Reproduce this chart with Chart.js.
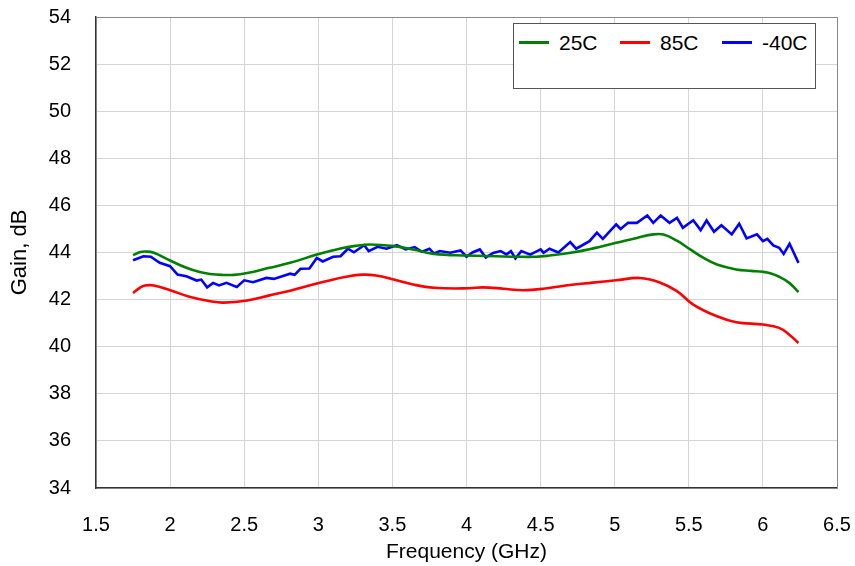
<!DOCTYPE html>
<html>
<head>
<meta charset="utf-8">
<script src="https://cdn.jsdelivr.net/npm/chart.js@4/dist/chart.umd.min.js"></script>
<style>
html,body{margin:0;padding:0;background:#fff;}
#wrap{position:relative;width:855px;height:566px;}
#legend{position:absolute;left:513px;top:23px;width:303px;height:66px;border:1.5px solid #555;background:#fff;box-sizing:border-box;font-family:"Liberation Sans",Arial,sans-serif;font-size:21px;color:#000;}
.item{position:absolute;top:7px;height:24px;line-height:24px;}
.sw{display:inline-block;width:30px;height:0;border-top:3px solid;vertical-align:middle;margin-right:10px;position:relative;top:-2px;}
</style>
</head>
<body>
<div id="wrap">
<canvas id="c" width="855" height="566"></canvas>
<div id="legend"></div>
</div>
<script>
// ---- data ----
const seriesNames = ["25C", "85C", "-40C"];
const seriesColors = ["#008000", "#ff0000", "#0000ff"];

const freq25 = [1.75,1.80,1.83,1.89,2.00,2.11,2.20,2.27,2.35,2.43,2.52,2.67,2.81,2.99,3.15,3.25,3.35,3.51,3.64,3.78,4.00,4.20,4.34,4.47,4.56,4.67,4.80,5.01,5.15,5.26,5.33,5.42,5.51,5.60,5.69,5.82,5.92,6.00,6.05,6.11,6.18,6.24];
const gain25 = [43.89,44.02,44.04,43.99,43.66,43.35,43.17,43.09,43.05,43.05,43.13,43.35,43.56,43.91,44.17,44.28,44.34,44.27,44.13,43.94,43.87,43.84,43.82,43.82,43.87,43.96,44.10,44.41,44.62,44.77,44.76,44.50,44.13,43.77,43.49,43.28,43.22,43.18,43.12,42.97,42.70,42.32];

const freq85 = [1.75,1.80,1.83,1.89,2.00,2.13,2.27,2.36,2.52,2.67,2.81,2.99,3.17,3.30,3.39,3.51,3.64,3.78,4.02,4.11,4.25,4.38,4.52,4.67,4.85,5.01,5.17,5.30,5.42,5.53,5.69,5.82,6.00,6.11,6.18,6.24];
const gain85 = [42.28,42.52,42.60,42.60,42.40,42.12,41.93,41.87,41.96,42.18,42.38,42.68,42.95,43.06,43.02,42.85,42.64,42.50,42.48,42.52,42.46,42.40,42.46,42.60,42.72,42.82,42.92,42.74,42.36,41.79,41.29,41.04,40.94,40.80,40.50,40.16];

const freqM40 = [1.75,1.82,1.87,1.93,2.00,2.05,2.11,2.18,2.21,2.25,2.29,2.33,2.38,2.45,2.50,2.56,2.65,2.70,2.81,2.84,2.88,2.94,2.99,3.03,3.10,3.15,3.20,3.24,3.31,3.34,3.40,3.46,3.53,3.59,3.65,3.70,3.75,3.78,3.82,3.89,3.96,4.00,4.04,4.09,4.13,4.18,4.23,4.27,4.30,4.33,4.37,4.43,4.50,4.52,4.56,4.62,4.70,4.74,4.83,4.88,4.92,5.01,5.04,5.09,5.15,5.22,5.26,5.31,5.37,5.42,5.46,5.53,5.58,5.62,5.67,5.72,5.79,5.84,5.89,5.96,6.00,6.03,6.07,6.11,6.14,6.18,6.24];
const gainM40 = [43.67,43.84,43.82,43.56,43.42,43.06,42.99,42.81,42.85,42.52,42.71,42.60,42.71,42.54,42.82,42.74,42.92,42.88,43.10,43.05,43.31,43.32,43.77,43.62,43.82,43.84,44.16,44.01,44.31,44.06,44.24,44.16,44.31,44.13,44.23,44.03,44.16,43.96,44.06,43.99,44.09,43.82,44.00,44.13,43.79,43.98,44.06,43.92,44.06,43.75,44.06,43.91,44.13,43.99,44.16,44.00,44.44,44.16,44.48,44.84,44.58,45.19,45.00,45.26,45.26,45.57,45.26,45.57,45.26,45.47,45.05,45.37,44.95,45.36,44.88,45.16,44.77,45.22,44.60,44.77,44.48,44.58,44.30,44.20,43.94,44.37,43.56];

const xMin = 1.5, xMax = 6.5, xStep = 0.5;
const yMin = 34, yMax = 54, yStep = 2;
const xTitle = "Frequency (GHz)";
const yTitle = "Gain, dB";

// ---- build ----
const pts = (xs, ys) => xs.map((x, i) => ({x: x, y: ys[i]}));
const allX = [freq25, freq85, freqM40];
const allY = [gain25, gain85, gainM40];
const tensions = [0.4, 0.4, 0];

const datasets = seriesNames.map((n, i) => ({
  label: n,
  data: pts(allX[i], allY[i]),
  borderColor: seriesColors[i],
  backgroundColor: seriesColors[i],
  borderWidth: 2.6,
  pointRadius: 0,
  tension: tensions[i],
  fill: false
}));

const fam = '"Liberation Sans", Arial, sans-serif';
const tickFont = {family: fam, size: 20};
const titleFont = {family: fam, size: 21};

new Chart(document.getElementById('c'), {
  type: 'line',
  data: {datasets: datasets},
  options: {
    responsive: false,
    devicePixelRatio: 1,
    animation: false,
    layout: {padding: {top: 17, right: 18, left: 0, bottom: 0}},
    plugins: {legend: {display: false}, tooltip: {enabled: false}},
    scales: {
      x: {
        type: 'linear',
        min: xMin, max: xMax,
        ticks: {stepSize: xStep, font: tickFont, color: '#000', padding: 25, maxRotation: 0,
                callback: v => String(Number(v.toFixed(2)))},
        grid: {color: '#d4d4d4', lineWidth: 1, drawTicks: false},
        border: {color: '#333', width: 1.5},
        title: {display: true, text: xTitle, font: titleFont, color: '#000', padding: {top: 0, bottom: 1}},
        afterFit: s => { s.height = 78; s.paddingLeft = 0; s.paddingRight = 0; }
      },
      y: {
        min: yMin, max: yMax,
        ticks: {stepSize: yStep, font: tickFont, color: '#000', padding: 25},
        grid: {color: '#d4d4d4', lineWidth: 1, drawTicks: false},
        border: {color: '#333', width: 1.5},
        title: {display: true, text: yTitle, font: {family: fam, size: 22}, color: '#000', padding: {top: 7, bottom: 0}},
        afterFit: s => { s.width = 96; s.paddingTop = 0; s.paddingBottom = 0; }
      }
    }
  },
  plugins: [{
    id: 'frame',
    afterDatasetsDraw(chart) {
      const a = chart.chartArea, ctx = chart.ctx;
      ctx.save();
      ctx.strokeStyle = '#888';
      ctx.lineWidth = 1;
      ctx.beginPath();
      ctx.moveTo(a.left, a.top + 0.5); ctx.lineTo(a.right + 0.5, a.top + 0.5); ctx.lineTo(a.right + 0.5, a.bottom);
      ctx.stroke();
      ctx.restore();
    }
  }]
});

// HTML legend
const lg = document.getElementById('legend');
const lefts = [5, 106, 208];
seriesNames.forEach((n, i) => {
  const d = document.createElement('div');
  d.className = 'item';
  d.style.left = lefts[i] + 'px';
  const sw = document.createElement('span');
  sw.className = 'sw';
  sw.style.borderTopColor = seriesColors[i];
  d.appendChild(sw);
  d.appendChild(document.createTextNode(n));
  lg.appendChild(d);
});
</script>
</body>
</html>
